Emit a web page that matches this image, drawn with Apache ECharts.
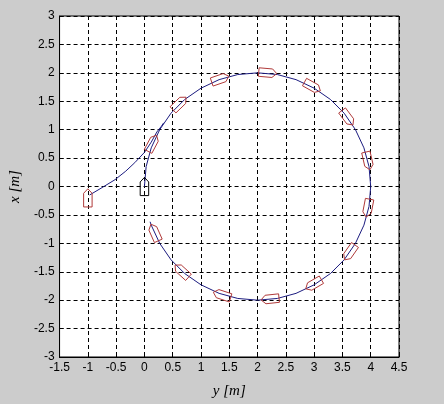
<!DOCTYPE html>
<html>
<head>
<meta charset="utf-8">
<script src="https://cdn.jsdelivr.net/npm/echarts@6/dist/echarts.min.js"></script>
<style>
html,body{margin:0;padding:0;background:#cccccc;}
#chart{width:444px;height:404px;}
</style>
</head>
<body>
<div id="chart"></div>
<script>
// Reference path (y [m], x [m])
const refY = [0, 0.03, 0.12, 0.27, 0.47, 0.71, 1.00, 1.32, 1.65, 2.00, 2.35, 2.68, 3.00, 3.29, 3.53, 3.73, 3.88, 3.97, 4.00,
  3.97, 3.88, 3.73, 3.53, 3.29, 3.00, 2.68, 2.35, 2.00, 1.65, 1.32, 1.00, 0.71, 0.47, 0.27, 0.12, 0.10];
const refX = [0, 0.35, 0.68, 1.00, 1.29, 1.53, 1.73, 1.88, 1.97, 2.00, 1.97, 1.88, 1.73, 1.53, 1.29, 1.00, 0.68, 0.35, 0,
  -0.35, -0.68, -1.00, -1.29, -1.53, -1.73, -1.88, -1.97, -2.00, -1.97, -1.88, -1.73, -1.53, -1.29, -1.00, -0.68, -0.62];
// Actual approach path
const pathY = [-0.97, -0.75, -0.52, -0.33, -0.17, 0.00, 0.12, 0.22, 0.30, 0.34];
const pathX = [-0.15, -0.02, 0.12, 0.27, 0.42, 0.60, 0.78, 0.96, 1.06, 1.12];
// Ship snapshots: position and heading (deg, from +y axis counterclockwise)
const shipY = [-1.00, 0.14, 0.62, 1.34, 2.18, 2.97, 3.59, 3.95, 3.95, 3.63, 2.99, 2.22, 1.37, 0.66, 0.18];
const shipX = [-0.20, 0.76, 1.46, 1.89, 2.00, 1.76, 1.21, 0.45, -0.38, -1.16, -1.72, -1.98, -1.91, -1.49, -0.81];
const shipPsi = [90, 62, 44, 19, -5, -29, -53, -77, -101, -125, -150, -174, 162, 138, 114];
// Reference ship at start
const refShipY = [0];
const refShipX = [0];
const refShipPsi = [90];
// Tick labels
const xTicks = [-1.5, -1, -0.5, 0, 0.5, 1, 1.5, 2, 2.5, 3, 3.5, 4, 4.5];
const yTicks = [-3, -2.5, -2, -1.5, -1, -0.5, 0, 0.5, 1, 1.5, 2, 2.5, 3];

const SHIP_L = 0.32, SHIP_W = 0.15, SHIP_B = 0.08;
const shipShape = [[-SHIP_L/2, -SHIP_W/2], [SHIP_L/2 - SHIP_B, -SHIP_W/2], [SHIP_L/2, 0], [SHIP_L/2 - SHIP_B, SHIP_W/2], [-SHIP_L/2, SHIP_W/2]];

function zip3(a, b, c) { return a.map((v, i) => [v, b[i], c[i]]); }
function zip2(a, b) { return a.map((v, i) => [v, b[i]]); }

function shipRenderer(color) {
  return function (params, api) {
    const c = api.coord([api.value(0), api.value(1)]);
    const s = api.size([1, 1]);
    const p = api.value(2) * Math.PI / 180;
    const pts = shipShape.map(([u, v]) => {
      const dx = u * Math.cos(p) - v * Math.sin(p);
      const dy = u * Math.sin(p) + v * Math.cos(p);
      return [c[0] + dx * s[0], c[1] - dy * s[1]];
    });
    return { type: 'polygon', shape: { points: pts }, style: { fill: 'none', stroke: color, lineWidth: 1 } };
  };
}

const chart = echarts.init(document.getElementById('chart'), null, { renderer: 'canvas' });
const labelStyle = { color: '#000', fontFamily: 'Liberation Sans, Arial, sans-serif', fontSize: 12 };
const nameStyle = { color: '#000', fontFamily: 'Liberation Serif, Times New Roman, serif', fontStyle: 'italic', fontSize: 15 };
chart.setOption({
  backgroundColor: '#cccccc',
  animation: false,
  grid: { left: 57, top: 16, width: 342, height: 342, show: true, backgroundColor: '#ffffff', borderColor: '#000', borderWidth: 1 },
  xAxis: {
    type: 'value', min: -1.5, max: 4.5, interval: 0.5,
    name: 'y [m]', nameLocation: 'middle', nameGap: 27, nameTextStyle: nameStyle,
    axisLine: { show: true, onZero: false, lineStyle: { color: '#000' } },
    axisTick: { show: true, inside: true, length: 4, lineStyle: { color: '#000' } },
    axisLabel: Object.assign({ margin: 5, formatter: v => String(xTicks.find(t => Math.abs(t - v) < 1e-9) ?? v) }, labelStyle),
    splitLine: { show: true, lineStyle: { color: '#000', type: [4, 3], width: 1 } }
  },
  yAxis: {
    type: 'value', min: -3, max: 3, interval: 0.5,
    name: 'x [m]', nameLocation: 'middle', nameGap: 35, nameTextStyle: nameStyle,
    axisLine: { show: true, onZero: false, lineStyle: { color: '#000' } },
    axisTick: { show: true, inside: true, length: 4, lineStyle: { color: '#000' } },
    axisLabel: Object.assign({ margin: 5, formatter: v => String(yTicks.find(t => Math.abs(t - v) < 1e-9) ?? v) }, labelStyle),
    splitLine: { show: true, lineStyle: { color: '#000', type: [4, 3], width: 1 } }
  },
  series: [
    { type: 'line', data: zip2(refY, refX), showSymbol: false, lineStyle: { color: '#1c1c80', width: 1 }, z: 3 },
    { type: 'line', data: zip2(pathY, pathX), showSymbol: false, lineStyle: { color: '#1c1c80', width: 1 }, z: 3 },
    { type: 'custom', data: zip3(shipY, shipX, shipPsi), renderItem: shipRenderer('#b03a3a'), z: 4 },
    { type: 'custom', data: zip3(refShipY, refShipX, refShipPsi), renderItem: shipRenderer('#000000'), z: 4 }
  ]
});
</script>
</body>
</html>
